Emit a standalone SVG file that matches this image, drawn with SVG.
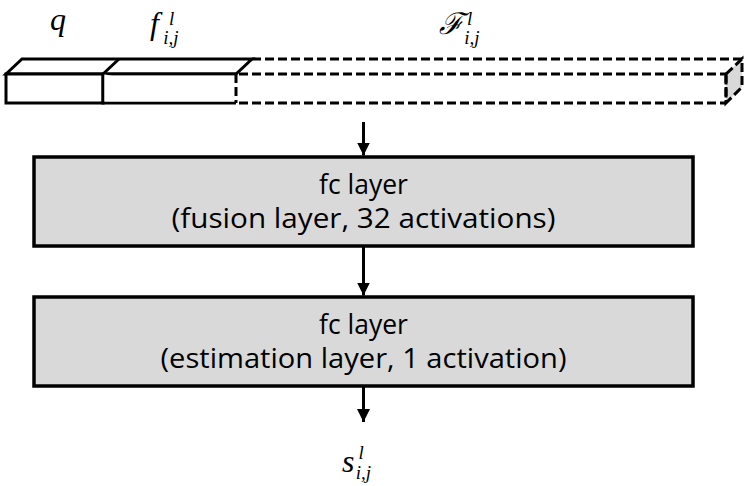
<svg xmlns="http://www.w3.org/2000/svg" width="748" height="486" viewBox="0 0 748 486">
  <defs>
    <style>
      .solid { fill: #ffffff; stroke: #000; stroke-width: 3; stroke-linejoin: miter; }
      .dash { fill: none; stroke: #000; stroke-width: 3; stroke-dasharray: 9 4; }
      .box { fill: #d9d9d9; stroke: #000; stroke-width: 3.5; }
      .conn { stroke: #000; stroke-width: 3; fill: none; }
      .lbl { font-family: "Open Sans", "Noto Sans", "Liberation Sans", sans-serif; font-size: 26.5px; fill: #000; text-anchor: middle; }
      .math { font-family: "Liberation Serif", "DejaVu Serif", serif; font-style: italic; fill: #000; }
      .sm { font-size: 19px; }
    </style>
    <marker id="ah" viewBox="0 0 12 12" refX="12" refY="6" markerWidth="13" markerHeight="13" markerUnits="userSpaceOnUse" orient="auto">
      <path d="M0,0 L12,6 L0,12 Z" fill="#000"/>
    </marker>
  </defs>

  <g id="input-vector">
    <polygon class="solid" points="6,74 22,59 252,59 236,74"/>
    <line class="solid" x1="103" y1="74" x2="119" y2="59"/>
    <rect class="solid" x="6" y="74" width="97" height="29"/>
    <polyline class="solid" fill="none" points="103,74 236,74"/>
    <polyline class="solid" fill="none" points="103,74 103,103 236,103"/>
    <rect x="104.5" y="75.5" width="130" height="26" fill="#fff"/>
    <line class="dash" x1="236" y1="74" x2="236" y2="103"/>
    <polygon points="726,74 742,59 742,87 726,103" fill="#d9d9d9" stroke="#000" stroke-width="3" stroke-dasharray="9 4"/>
    <line class="dash" x1="252" y1="59" x2="742" y2="59"/>
    <line class="dash" x1="239" y1="74" x2="726" y2="74"/>
    <line class="dash" x1="239" y1="103" x2="726" y2="103"/>
    <line class="dash" x1="726" y1="74" x2="726" y2="103"/>
    <text class="math" x="58" y="30" font-size="32" text-anchor="middle">q</text>
    <text class="math" x="150" y="34" font-size="32">f<tspan class="sm" dx="10" dy="-9">l</tspan><tspan class="sm" dx="-11" dy="19">i,j</tspan></text>
    <text class="math" x="439" y="34" font-size="30">ℱ<tspan class="sm" dx="3" dy="-9">l</tspan><tspan class="sm" dx="-8" dy="19">i,j</tspan></text>
  </g>

  <g id="fusion-layer">
    <rect class="box" x="34" y="157" width="659" height="89"/>
    <text class="lbl" x="363.5" y="194">fc layer</text>
    <text class="lbl" x="363.5" y="228" textLength="384" lengthAdjust="spacingAndGlyphs">(fusion layer, 32 activations)</text>
  </g>

  <g id="estimation-layer">
    <rect class="box" x="34" y="297" width="659" height="89"/>
    <text class="lbl" x="363.5" y="334">fc layer</text>
    <text class="lbl" x="363.5" y="368" textLength="406" lengthAdjust="spacingAndGlyphs">(estimation layer, 1 activation)</text>
  </g>

  <g id="output">
    <text class="math" x="342" y="472" font-size="32">s<tspan class="sm" dx="4" dy="-13">l</tspan><tspan class="sm" dx="-8" dy="20">i,j</tspan></text>
  </g>

  <g id="connectors">
    <line class="conn" x1="363.5" y1="122" x2="363.5" y2="155.5" marker-end="url(#ah)"/>
    <line class="conn" x1="363.5" y1="246" x2="363.5" y2="295.5" marker-end="url(#ah)"/>
    <line class="conn" x1="363.5" y1="386" x2="363.5" y2="422" marker-end="url(#ah)"/>
  </g>
</svg>
